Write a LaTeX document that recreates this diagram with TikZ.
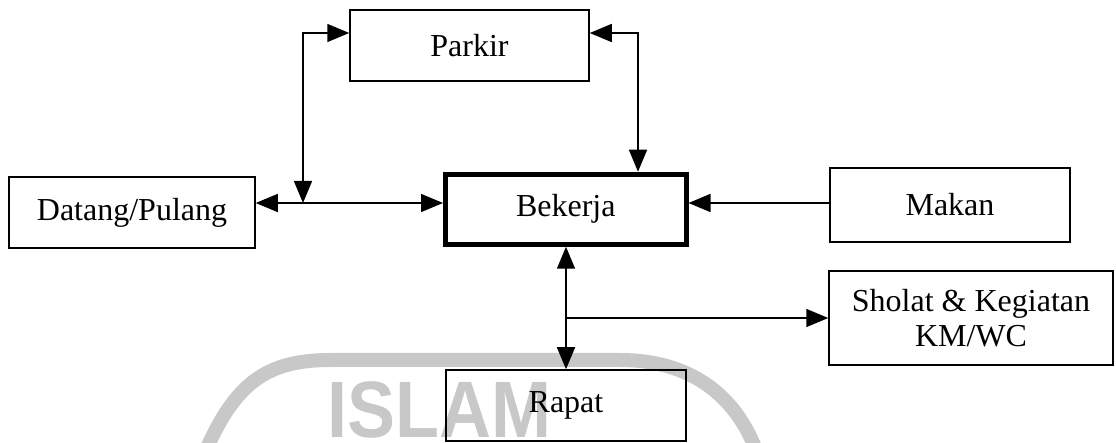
\documentclass[tikz,border=0pt]{standalone}
\usepackage{fontspec}
\setmainfont{Liberation Serif}
\newfontfamily\wmfont{Liberation Sans}
\usetikzlibrary{arrows.meta,calc}
\definecolor{wmgray}{HTML}{C8C8C8}
\tikzset{
  box/.style={draw, line width=1.5pt, inner sep=0pt, align=center,
    font=\fontsize{32}{35}\selectfont},
  mainbox/.style={box, line width=5pt},
  tip/.style={Triangle[length=22pt,width=18pt]},
  conn/.style={line width=1.5pt, -{Triangle[length=22pt,width=18pt]}},
  dconn/.style={line width=1.5pt, {Triangle[length=22pt,width=18pt]}-{Triangle[length=22pt,width=18pt]}},
  wm/.style={wmgray}
}
\begin{document}
\begin{tikzpicture}[x=1pt,y=-1pt]
\useasboundingbox (0,0) rectangle (1116,443);
% watermark
\begin{scope}
\clip (0,0) rectangle (1116,443);
\draw[wm, line width=14pt] (206,450) .. controls (235,385) and (265,360) .. (330,360)
  -- (620,360) .. controls (690,360) and (735,395) .. (756,450);
\end{scope}
\node[wm, anchor=base, inner sep=0pt, xscale=0.9, font=\wmfont\bfseries\fontsize{80}{80}\selectfont] (wmtext) at (439,437) {ISLAM};
% boxes
\node[box, minimum width=239pt, minimum height=71pt] (parkir) at (469.5,45.5) {Parkir};
\node[box, minimum width=246pt, minimum height=71pt] (datang) at (132,212.5) {Datang/Pulang};
\node[mainbox, minimum width=240.5pt, minimum height=70pt] (bekerja) at (565.75,209.25) {Bekerja};
\node[box, minimum width=240pt, minimum height=74pt] (makan) at (950,205) {Makan};
\node[box, minimum width=284pt, minimum height=94pt] (sholat) at (971,318) {Sholat \& Kegiatan\\KM/WC};
\node[box, minimum width=240pt, minimum height=71pt] (rapat) at (566,405.5) {Rapat};
% helper coordinates
\coordinate (ymid) at (0,203);
\coordinate (ytop) at (0,33);
\coordinate (xl) at (303,0);
\coordinate (xr) at (638,0);
\coordinate (xv) at (566,0);
\coordinate (ybr) at (0,318);
\coordinate (junc) at (xl |- ymid);
\coordinate (branch) at (xv |- ybr);
% connectors
\draw[dconn] (datang.east |- ymid) -- (bekerja.west |- ymid);
\draw[dconn] (parkir.west |- ytop) -- (xl |- ytop) -- (junc);
\draw[dconn] (parkir.east |- ytop) -- (xr |- ytop) -- (xr |- bekerja.north);
\draw[conn] (makan.west |- ymid) -- (bekerja.east |- ymid);
\draw[dconn] (xv |- bekerja.south) -- (xv |- rapat.north);
\draw[conn] (branch) -- (sholat.west |- ybr);
\end{tikzpicture}
\end{document}
